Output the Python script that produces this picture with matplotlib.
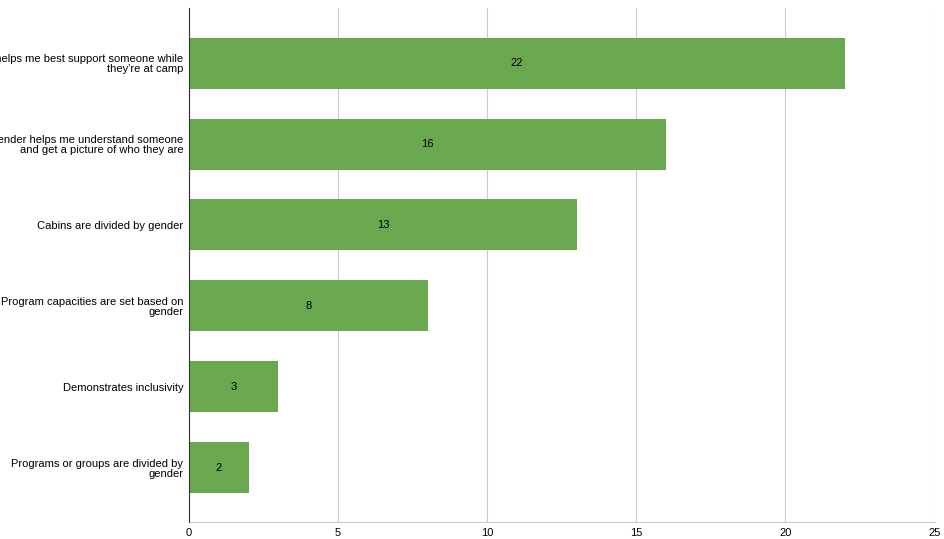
import matplotlib
matplotlib.use("Agg")
import matplotlib.pyplot as plt

plt.rcParams['font.family'] = ['Liberation Sans', 'DejaVu Sans']

categories = ["It helps me best support someone while\nthey're at camp",
              "Gender helps me understand someone\nand get a picture of who they are",
              "Cabins are divided by gender",
              "Program capacities are set based on\ngender",
              "Demonstrates inclusivity",
              "Programs or groups are divided by\ngender"]
values = [22, 16, 13, 8, 3, 2]
xticks = [0, 5, 10, 15, 20, 25]

fig = plt.figure(figsize=(9.45, 5.39), dpi=100)
ax = fig.add_axes([0.2, 0.0315, 0.789, 0.9535])
y = list(range(len(values)))
ax.barh(y, values, height=0.63, color="#6aa84f", zorder=2)
for yi, v in zip(y, values):
    ax.text(v / 2, yi, str(v), ha="center", va="center", fontsize=8, color="black", zorder=3)
ax.set_ylim(len(values) - 0.33, -0.68)
ax.set_xlim(0, 25)
ax.set_xticks(xticks)
ax.set_yticks(y)
ax.set_yticklabels(categories, fontsize=8, linespacing=1.0)
ax.tick_params(axis="x", labelsize=8, length=0, pad=4)
ax.tick_params(axis="y", length=0, pad=4)
ax.grid(axis="x", color="#cccccc", linewidth=0.8, zorder=0)
for s in ["top", "right"]:
    ax.spines[s].set_visible(False)
ax.spines["bottom"].set_color("#cccccc")
ax.spines["left"].set_color("#333333")
ax.spines["left"].set_zorder(4)
fig.savefig("out.png", dpi=100)
